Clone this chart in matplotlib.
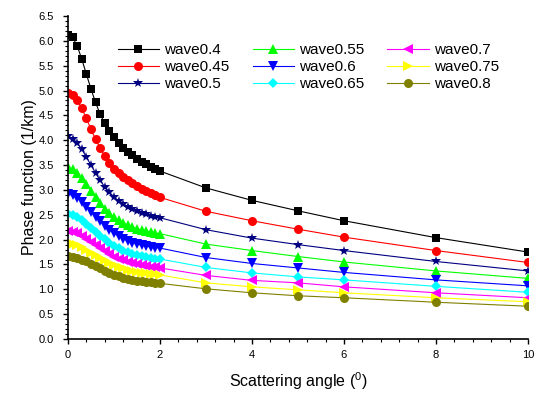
import matplotlib
matplotlib.use("Agg")
import matplotlib.pyplot as plt
from matplotlib.ticker import MultipleLocator, FormatStrFormatter

plt.rcParams['font.family'] = ['Liberation Sans', 'DejaVu Sans']
plt.rcParams['mathtext.fontset'] = 'custom'
plt.rcParams['mathtext.rm'] = 'Liberation Sans'

# scattering angle (deg): dense 0..2 then coarse
angle = [0.0, 0.1, 0.2, 0.3, 0.4, 0.5, 0.6, 0.7, 0.8, 0.9, 1.0,
         1.1, 1.2, 1.3, 1.4, 1.5, 1.6, 1.7, 1.8, 1.9, 2.0,
         3, 4, 5, 6, 8, 10]

wave04 = [6.12, 6.07, 5.90, 5.63, 5.33, 5.03, 4.76, 4.52, 4.34, 4.19, 4.06,
          3.95, 3.85, 3.77, 3.70, 3.63, 3.57, 3.52, 3.47, 3.42, 3.38,
          3.04, 2.79, 2.58, 2.38, 2.04, 1.75]
wave045 = [4.96, 4.91, 4.81, 4.64, 4.44, 4.22, 4.02, 3.84, 3.68, 3.54, 3.43,
           3.34, 3.26, 3.19, 3.13, 3.07, 3.02, 2.97, 2.93, 2.89, 2.85,
           2.57, 2.38, 2.21, 2.05, 1.78, 1.54]
wave05 = [4.08, 4.03, 3.95, 3.82, 3.66, 3.50, 3.34, 3.19, 3.06, 2.95, 2.86,
          2.78, 2.72, 2.66, 2.61, 2.57, 2.54, 2.51, 2.48, 2.46, 2.44,
          2.20, 2.03, 1.90, 1.78, 1.56, 1.37]
wave055 = [3.46, 3.42, 3.35, 3.24, 3.11, 2.98, 2.85, 2.73, 2.62, 2.53, 2.45,
           2.39, 2.34, 2.29, 2.25, 2.22, 2.19, 2.17, 2.15, 2.13, 2.12,
           1.91, 1.78, 1.66, 1.55, 1.37, 1.22]
wave06 = [2.92, 2.89, 2.84, 2.76, 2.66, 2.56, 2.46, 2.37, 2.28, 2.20, 2.13,
          2.07, 2.02, 1.98, 1.94, 1.91, 1.89, 1.87, 1.85, 1.84, 1.83,
          1.64, 1.52, 1.43, 1.34, 1.19, 1.07]
wave065 = [2.52, 2.50, 2.46, 2.40, 2.32, 2.24, 2.16, 2.08, 2.01, 1.94, 1.88,
           1.83, 1.78, 1.75, 1.71, 1.69, 1.67, 1.65, 1.63, 1.62, 1.61,
           1.44, 1.33, 1.25, 1.19, 1.06, 0.94]
wave07 = [2.18, 2.16, 2.13, 2.08, 2.02, 1.96, 1.89, 1.83, 1.77, 1.71, 1.66,
          1.62, 1.58, 1.55, 1.52, 1.50, 1.48, 1.47, 1.45, 1.44, 1.43,
          1.28, 1.18, 1.13, 1.05, 0.93, 0.83]
wave075 = [1.93, 1.92, 1.89, 1.85, 1.80, 1.74, 1.69, 1.63, 1.58, 1.53, 1.49,
           1.45, 1.42, 1.39, 1.37, 1.35, 1.33, 1.32, 1.31, 1.30, 1.29,
           1.13, 1.05, 0.99, 0.93, 0.83, 0.75]
wave08 = [1.67, 1.66, 1.64, 1.60, 1.56, 1.51, 1.46, 1.42, 1.37, 1.33, 1.29,
          1.26, 1.23, 1.21, 1.19, 1.17, 1.16, 1.15, 1.14, 1.13, 1.12,
          1.01, 0.93, 0.87, 0.83, 0.74, 0.66]

series = [wave04, wave045, wave05, wave055, wave06, wave065, wave07, wave075, wave08]
labels = ["wave0.4", "wave0.45", "wave0.5", "wave0.55", "wave0.6",
          "wave0.65", "wave0.7", "wave0.75", "wave0.8"]
colors = ["black", "red", "#000080", "#00ff00", "#0000ff",
          "#00ffff", "#ff00ff", "#ffff00", "#808000"]
markers = ["s", "o", "*", "^", "v", "D", "<", ">", "o"]
msizes = [6, 6.5, 7.5, 6.5, 6.5, 5.5, 6.5, 6.5, 6.5]

fig = plt.figure(figsize=(5.37, 3.96), dpi=100)
ax = fig.add_axes([0.1266, 0.1439, 0.8566, 0.8157])

for y, lab, c, m, ms in zip(series, labels, colors, markers, msizes):
    ax.plot(angle, y, color=c, marker=m, markersize=ms, markeredgewidth=0,
            linewidth=0.8, label=lab)

ax.set_xlim(0, 10)
ax.set_ylim(0, 6.5)
ax.xaxis.set_major_locator(MultipleLocator(2))
ax.xaxis.set_minor_locator(MultipleLocator(0.4))
ax.yaxis.set_major_locator(MultipleLocator(0.5))
ax.yaxis.set_minor_locator(MultipleLocator(0.1))
ax.yaxis.set_major_formatter(FormatStrFormatter('%.1f'))

for s in ['top', 'right']:
    ax.spines[s].set_visible(False)
for s in ['left', 'bottom']:
    ax.spines[s].set_linewidth(1.2)
ax.tick_params(which='major', direction='out', length=3.6, width=1, labelsize=8)
ax.tick_params(axis='y', which='major', pad=6.5)
ax.tick_params(axis='x', which='major', pad=4)
ax.tick_params(which='minor', direction='out', length=2, width=0.8)

ax.set_xlabel("Scattering angle ($^0$)", fontsize=11.5, labelpad=8)
ax.set_ylabel("Phase function (1/km)", fontsize=11.5, labelpad=1)

ax.legend(ncol=3, frameon=False, fontsize=11, loc='upper left',
          bbox_to_anchor=(0.095, 0.935), handlelength=2.7, handletextpad=0.35,
          columnspacing=1.5, labelspacing=0.2, borderaxespad=0)

fig.savefig("out.png", dpi=100)
